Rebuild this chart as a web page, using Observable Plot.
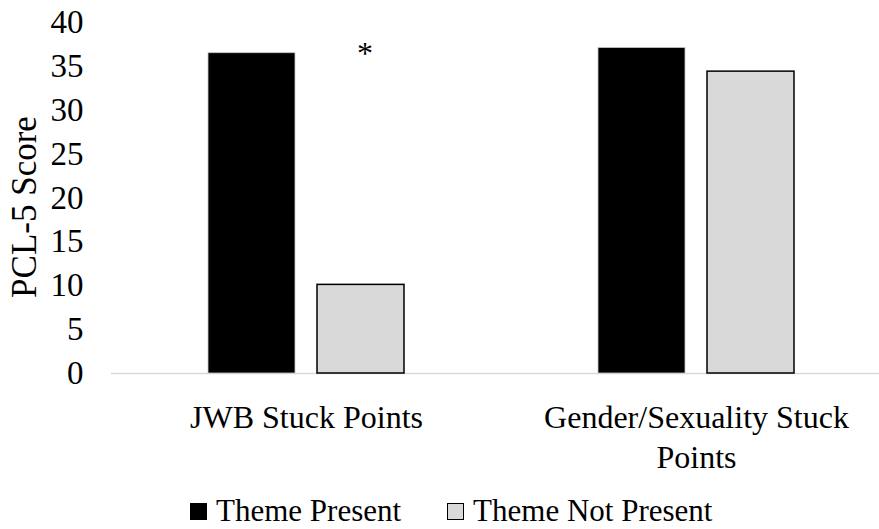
<!DOCTYPE html>
<html>
<head>
<meta charset="utf-8">
<script src="https://cdn.jsdelivr.net/npm/d3@7"></script>
<script src="https://cdn.jsdelivr.net/npm/@observablehq/plot@0.6"></script>
<style>
  html, body { margin: 0; padding: 0; background: white; }
  body { width: 879px; height: 529px; overflow: hidden; font-family: "Liberation Serif", "Times New Roman", serif; }
  #legend { display: flex; align-items: center; padding-left: 190px; margin-top: 27px; font-size: 31px; line-height: 28px; height: 28px; color: black; }
  .item { display: flex; align-items: center; margin-right: 46px; }
  .swatch { width: 17px; height: 17px; box-sizing: border-box; margin-right: 9px; }
</style>
</head>
<body>
<div id="chart"></div>
<div id="legend"></div>
<script>
const categories = ["JWB Stuck Points", "Gender/Sexuality Stuck Points"];
const categoryLabels = ["JWB Stuck Points", "Gender/Sexuality Stuck\nPoints"];
const series = ["Theme Present", "Theme Not Present"];
const themePresent = [36.5, 37.1];
const themeNotPresent = [10.1, 34.4];
const yTicks = [0, 5, 10, 15, 20, 25, 30, 35, 40];
const yTitle = ["PCL-5 Score"];
const significant = ["JWB Stuck Points"];
const seriesFill = ["#000000", "#d9d9d9"];
const seriesStroke = ["#c8c8c8", "#000000"];

const data = categories.flatMap((c, i) => [
  {category: c, series: series[0], value: themePresent[i]},
  {category: c, series: series[1], value: themeNotPresent[i]}
]);
const stars = significant.map(c => {
  const i = categories.indexOf(c);
  return {category: c, series: series[1], value: Math.max(themePresent[i], themeNotPresent[i]), label: "*"};
});

const chart = Plot.plot({
  width: 879,
  height: 470,
  marginTop: 22,
  marginBottom: 97,
  marginLeft: 111,
  marginRight: 0,
  style: {fontFamily: "Liberation Serif", fontSize: "32px", color: "black", background: "white", overflow: "visible"},
  fx: {domain: categories, range: [111, 891], padding: 0, label: null, axis: null},
  x: {domain: series, paddingInner: 0.2, paddingOuter: 0.873, axis: null},
  y: {domain: [0, 40], axis: null},
  marks: [
    Plot.ruleY([0], {stroke: "#d9d9d9", strokeWidth: 1.5}),
    Plot.barY(data.filter(d => d.series === series[0]), {fx: "category", x: "series", y: "value", fill: seriesFill[0], stroke: seriesStroke[0], strokeWidth: 0.8}),
    Plot.barY(data.filter(d => d.series === series[1]), {fx: "category", x: "series", y: "value", fill: seriesFill[1], stroke: seriesStroke[1], strokeWidth: 1.5}),
    Plot.text(stars, {fx: "category", x: "series", y: "value", text: "label", dx: 4, dy: 1, fontSize: 32, fill: "black"}),
    Plot.axisY({ticks: yTicks, tickSize: 0, tickPadding: 28, label: null, fontSize: 33, fill: "black"}),
    Plot.text(yTitle, {fx: () => categories[0], text: d => d, frameAnchor: "left", textAnchor: "middle", lineAnchor: "middle", rotate: -90, dx: -87, dy: 9, fontSize: 35, fill: "black"}),
    Plot.axisFx({anchor: "bottom", tickSize: 0, tickPadding: 26, tickFormat: d => categoryLabels[categories.indexOf(d)], lineHeight: 1.25, label: null, fontSize: 32, fill: "black"})
  ]
});
document.getElementById("chart").appendChild(chart);

const legend = document.getElementById("legend");
series.forEach((s, i) => {
  const item = document.createElement("div");
  item.className = "item";
  const sw = document.createElement("span");
  sw.className = "swatch";
  sw.style.background = seriesFill[i];
  sw.style.border = i === 1 ? "1.5px solid #000" : "none";
  const t = document.createElement("span");
  t.textContent = s;
  item.appendChild(sw);
  item.appendChild(t);
  legend.appendChild(item);
});
</script>
</body>
</html>
